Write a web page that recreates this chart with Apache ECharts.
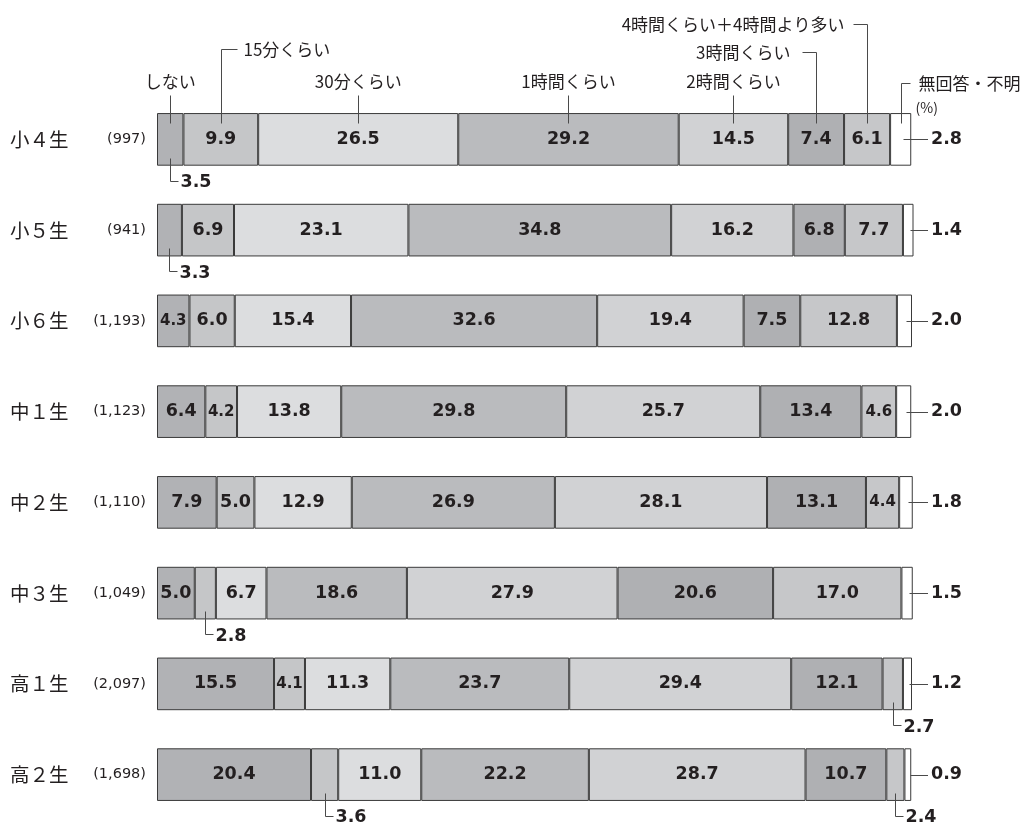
<!DOCTYPE html>
<html lang="ja">
<head>
<meta charset="utf-8">
<title>学習時間の分布</title>
<script src="https://cdn.jsdelivr.net/npm/echarts@6/dist/echarts.min.js"></script>
<style>
  html, body { margin: 0; padding: 0; background: #ffffff; }
  #chart { width: 1023px; height: 823px; }
</style>
</head>
<body>
<div id="chart"></div>
<script>
// Grade rows and their sample sizes
const categories = ['小４生', '小５生', '小６生', '中１生', '中２生', '中３生', '高１生', '高２生'];
const sampleSizes = ['(997)', '(941)', '(1,193)', '(1,123)', '(1,110)', '(1,049)', '(2,097)', '(1,698)'];

// Answer categories, left to right
const seriesNames = ['しない', '15分くらい', '30分くらい', '1時間くらい', '2時間くらい', '3時間くらい', '4時間くらい＋4時間より多い', '無回答・不明'];

// Percentages per answer category, one value per grade row
const noStudy   = [3.5, 3.3, 4.3, 6.4, 7.9, 5.0, 15.5, 20.4];
const min15     = [9.9, 6.9, 6.0, 4.2, 5.0, 2.8, 4.1, 3.6];
const min30     = [26.5, 23.1, 15.4, 13.8, 12.9, 6.7, 11.3, 11.0];
const hour1     = [29.2, 34.8, 32.6, 29.8, 26.9, 18.6, 23.7, 22.2];
const hour2     = [14.5, 16.2, 19.4, 25.7, 28.1, 27.9, 29.4, 28.7];
const hour3     = [7.4, 6.8, 7.5, 13.4, 13.1, 20.6, 12.1, 10.7];
const hour4plus = [6.1, 7.7, 12.8, 4.6, 4.4, 17.0, 2.7, 2.4];
const noAnswer  = [2.8, 1.4, 2.0, 2.0, 1.8, 1.5, 1.2, 0.9];

const seriesValues = [noStudy, min15, min30, hour1, hour2, hour3, hour4plus, noAnswer];

// ---- styling ----
const fills = ['#b1b2b5', '#c5c6c8', '#dcdddf', '#babbbe', '#d1d2d4', '#afb0b3', '#c6c7c9', '#ffffff'];
const INK = '#231f20';
const LEADER = '#4a4a4a';
const BAR_RATIO = 0.58;
const JP_FONT = '"Noto Sans CJK JP", "Noto Sans", sans-serif';
const NUM_FONT = '"DejaVu Sans", "Liberation Sans", sans-serif';

// Leader layout for the answer-category captions above the first row
// dir: 'up' = caption centered above, 'right' = hook to the right, 'left' = hook to the left
const headerLayout = [
  { dir: 'up', rise: 18, textRise: 32 },
  { dir: 'right', rise: 64, hook: 16, gap: 22 },
  { dir: 'up', rise: 18, textRise: 32 },
  { dir: 'up', rise: 18, textRise: 32 },
  { dir: 'up', rise: 18, textRise: 32 },
  { dir: 'left', rise: 61, hook: 14, gap: 26 },
  { dir: 'left', rise: 89, hook: 14, gap: 23 },
  { dir: 'right', rise: 30, hook: 9, gap: 17, unit: '(%)' }
];

// Segment midpoints along the 0-100 axis
function segmentMid(seriesIdx, row) {
  let start = 0;
  for (let k = 0; k < seriesIdx; k++) start += seriesValues[k][row];
  return start + seriesValues[seriesIdx][row] / 2;
}

// Annotation items: [mid value, row, series index, kind] ; kind 0 = caption, 1 = value below, 2 = value right
const annotations = [];
seriesNames.forEach((_, s) => annotations.push([segmentMid(s, 0), 0, s, 0]));
categories.forEach((_, row) => {
  seriesValues.forEach((vals, s) => {
    if (vals[row] < 4) {
      annotations.push([segmentMid(s, row), row, s, s === seriesValues.length - 1 ? 2 : 1]);
    }
  });
});

const crisp = v => Math.round(v) + 0.5;

function renderAnnotation(params, api) {
  const mid = api.value(0);
  const row = api.value(1);
  const s = api.value(2);
  const kind = api.value(3);
  const pt = api.coord([mid, row]);
  const band = api.size([0, 1])[1];
  const half = band * BAR_RATIO / 2;
  const top = pt[1] - half;
  const bottom = pt[1] + half;
  const x = crisp(pt[0]);
  const children = [];
  const lineStyle = { stroke: LEADER, lineWidth: 1, fill: null };

  if (kind === 0) {
    const cfg = headerLayout[s];
    const inner = crisp(top + 10);
    const lvl = crisp(top - cfg.rise);
    const textStyle = { fill: INK, fontSize: 17, fontFamily: JP_FONT, verticalAlign: 'middle' };
    if (cfg.dir === 'up') {
      children.push({ type: 'polyline', shape: { points: [[x, inner], [x, lvl]] }, style: lineStyle });
      children.push({ type: 'text', style: Object.assign({ text: seriesNames[s], x: pt[0], y: top - cfg.textRise, align: 'center' }, textStyle) });
    } else if (cfg.dir === 'right') {
      children.push({ type: 'polyline', shape: { points: [[x, inner], [x, lvl], [x + cfg.hook, lvl]] }, style: lineStyle });
      children.push({ type: 'text', style: Object.assign({ text: seriesNames[s], x: x + cfg.gap, y: lvl, align: 'left' }, textStyle) });
      if (cfg.unit) {
        children.push({ type: 'text', style: Object.assign({}, textStyle, { text: cfg.unit, x: x + cfg.gap - 3, y: top - 5, align: 'left', fontSize: 14 }) });
      }
    } else {
      children.push({ type: 'polyline', shape: { points: [[x, inner], [x, lvl], [x - cfg.hook, lvl]] }, style: lineStyle });
      children.push({ type: 'text', style: Object.assign({ text: seriesNames[s], x: x - cfg.gap, y: lvl, align: 'right' }, textStyle) });
    }
  } else {
    const label = seriesValues[s][row].toFixed(1);
    const numStyle = { fill: INK, fontSize: 17.5, fontFamily: NUM_FONT, fontWeight: 'bold', verticalAlign: 'middle', align: 'left' };
    if (kind === 1) {
      const y0 = crisp(bottom - 8);
      const y1 = crisp(bottom + 15);
      children.push({ type: 'polyline', shape: { points: [[x, y0], [x, y1], [x + 8, y1]] }, style: lineStyle });
      children.push({ type: 'text', style: Object.assign({ text: label, x: x + 10, y: bottom + 17 }, numStyle) });
    } else {
      const right = api.coord([100, row])[0];
      const y = crisp(pt[1]);
      children.push({ type: 'polyline', shape: { points: [[x + 2, y], [right + 16, y]] }, style: lineStyle });
      children.push({ type: 'text', style: Object.assign({ text: label, x: right + 19, y: pt[1] }, numStyle) });
    }
  }
  return { type: 'group', children };
}

const barSeries = seriesNames.map((name, i) => ({
  name,
  type: 'bar',
  stack: 'total',
  barWidth: (BAR_RATIO * 100) + '%',
  clip: false,
  data: seriesValues[i],
  itemStyle: { color: fills[i], borderColor: '#3a3a3a', borderWidth: 1 },
  emphasis: { disabled: true },
  label: {
    show: true,
    position: 'inside',
    color: INK,
    fontFamily: NUM_FONT,
    fontWeight: 'bold',
    fontSize: 17.5,
    formatter: p => {
      if (p.value < 4) return '';
      if (p.value < 5) return '{s|' + p.value.toFixed(1) + '}';
      return p.value.toFixed(1);
    },
    rich: {
      s: { fontSize: 15, fontFamily: NUM_FONT, fontWeight: 'bold', color: INK }
    }
  }
}));

const chart = echarts.init(document.getElementById('chart'), null, { renderer: 'canvas' });
chart.setOption({
  animation: false,
  backgroundColor: '#ffffff',
  grid: { left: 157, right: 111, top: 94, bottom: 3, containLabel: false },
  xAxis: {
    type: 'value', min: 0, max: 100, show: false
  },
  yAxis: {
    type: 'category',
    inverse: true,
    data: categories,
    axisLine: { show: false },
    axisTick: { show: false },
    splitLine: { show: false },
    axisLabel: {
      margin: 11,
      align: 'right',
      formatter: (val, idx) => '{n|' + val + '}{c|' + sampleSizes[idx] + '}',
      rich: {
        n: { fontSize: 19.5, fontFamily: JP_FONT, color: INK, width: 70, align: 'left' },
        c: { fontSize: 14.5, fontFamily: NUM_FONT, color: INK, width: 66, align: 'right' }
      }
    }
  },
  series: barSeries.concat([{
    type: 'custom',
    renderItem: renderAnnotation,
    data: annotations,
    encode: { x: 0, y: 1 },
    clip: false,
    silent: true,
    z: 10
  }])
});
</script>
</body>
</html>
